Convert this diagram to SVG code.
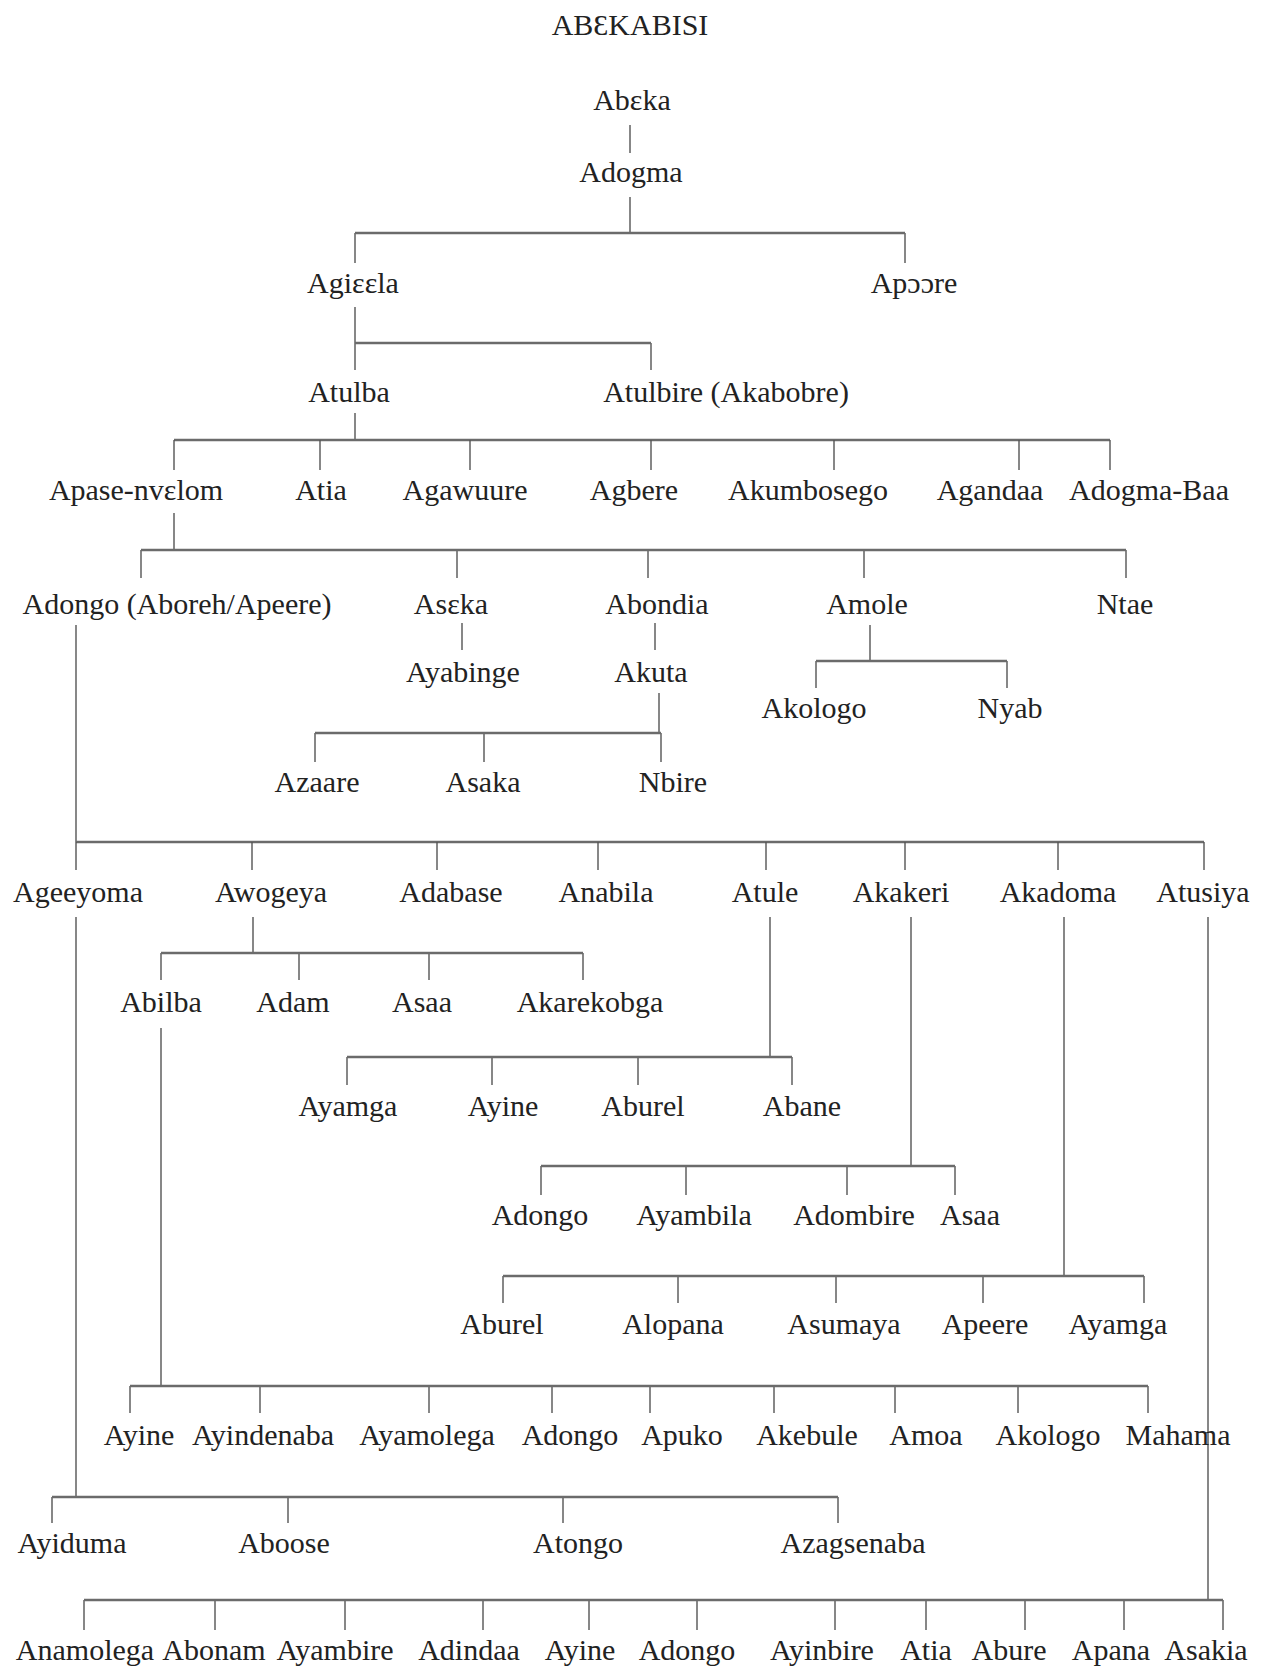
<svg xmlns="http://www.w3.org/2000/svg" width="1261" height="1667" viewBox="0 0 1261 1667">
<style>
text{font-family:"Liberation Serif","Times New Roman",serif;font-size:30px;fill:#222;text-anchor:middle}
.v{stroke:#555;stroke-width:1.4;fill:none}
.b{stroke:#6b6b6b;stroke-width:2.6;fill:none}
</style>
<rect width="1261" height="1667" fill="#fff"/>
<g id="connectors">
<path class="v" d="M630 125V153M630 197V232M355 233V263M905 233V263M355 307V343M355 343V370M651 343V370M355 413V440"/>
<path class="b" d="M355 233H905M355 343H651"/>
<path class="b" d="M174 440H1110"/>
<path class="v" d="M174 440V470M320 440V470M470 440V470M651 440V470M834 440V470M1019 440V470M1110 440V470"/>
<path class="v" d="M174 513V550M141 550V578M457 550V578M648 550V578M864 550V578M1126 550V578"/>
<path class="b" d="M141 550H1126"/>
<path class="v" d="M462 623V650M655 623V650M870 625V661M816 661V688M1007 661V688"/>
<path class="b" d="M816 661H1007"/>
<path class="v" d="M659 693V733M315 733V762M484 733V762M661 733V762"/>
<path class="b" d="M315 733H661"/>
<path class="v" d="M76 625V842"/>
<path class="b" d="M76 842H1204"/>
<path class="v" d="M76 842V870M252 842V870M437 842V870M598 842V870M766 842V870M905 842V870M1058 842V870M1204 842V870"/>
<path class="v" d="M253 917V953M161 953V980M299 953V980M429 953V980M583 953V980"/>
<path class="b" d="M161 953H583"/>
<path class="v" d="M770 917V1057M347 1057V1085M492 1057V1085M638 1057V1085M792 1057V1085"/>
<path class="b" d="M347 1057H792"/>
<path class="v" d="M911 917V1166M541 1166V1195M686 1166V1195M847 1166V1195M955 1166V1195"/>
<path class="b" d="M541 1166H955"/>
<path class="v" d="M1064 917V1276M503 1276V1303M678 1276V1303M836 1276V1303M983 1276V1303M1144 1276V1303"/>
<path class="b" d="M503 1276H1144"/>
<path class="v" d="M161 1028V1386M130 1386V1413M260 1386V1413M429 1386V1413M552 1386V1413M650 1386V1413M774 1386V1413M895 1386V1413M1018 1386V1413M1148 1386V1413"/>
<path class="b" d="M130 1386H1148"/>
<path class="v" d="M76 917V1497M52 1497V1523M288 1497V1523M563 1497V1523M838 1497V1523"/>
<path class="b" d="M52 1497H838"/>
<path class="v" d="M1208 917V1600M84 1600V1630M215 1600V1630M345 1600V1630M483 1600V1630M589 1600V1630M697 1600V1630M835 1600V1630M926 1600V1630M1025 1600V1630M1124 1600V1630M1223 1600V1630"/>
<path class="b" d="M84 1600H1223"/>
</g>
<g id="title"><text x="630" y="35">ABƐKABISI</text></g>
<g id="n-abeka"><text x="632" y="110">Abɛka</text></g>
<g id="n-adogma"><text x="631" y="182">Adogma</text></g>
<g id="n-agieela"><text x="353" y="293">Agiɛɛla</text></g>
<g id="n-apoore"><text x="914" y="293">Apɔɔre</text></g>
<g id="n-atulba"><text x="349" y="402">Atulba</text></g>
<g id="n-atulbire"><text x="726" y="402">Atulbire  (Akabobre)</text></g>
<g id="n-apase"><text x="136" y="500">Apase-nvɛlom</text></g>
<g id="n-atia1"><text x="321" y="500">Atia</text></g>
<g id="n-agawuure"><text x="465" y="500">Agawuure</text></g>
<g id="n-agbere"><text x="634" y="500">Agbere</text></g>
<g id="n-akumbosego"><text x="808" y="500">Akumbosego</text></g>
<g id="n-agandaa"><text x="990" y="500">Agandaa</text></g>
<g id="n-adogmabaa"><text x="1149" y="500">Adogma-Baa</text></g>
<g id="n-adongo1"><text x="177" y="614">Adongo (Aboreh/Apeere)</text></g>
<g id="n-aseka"><text x="451" y="614">Asɛka</text></g>
<g id="n-abondia"><text x="657" y="614">Abondia</text></g>
<g id="n-amole"><text x="867" y="614">Amole</text></g>
<g id="n-ntae"><text x="1125" y="614">Ntae</text></g>
<g id="n-ayabinge"><text x="463" y="682">Ayabinge</text></g>
<g id="n-akuta"><text x="651" y="682">Akuta</text></g>
<g id="n-akologo1"><text x="814" y="718">Akologo</text></g>
<g id="n-nyab"><text x="1010" y="718">Nyab</text></g>
<g id="n-azaare"><text x="317" y="792">Azaare</text></g>
<g id="n-asaka"><text x="483" y="792">Asaka</text></g>
<g id="n-nbire"><text x="673" y="792">Nbire</text></g>
<g id="n-ageeyoma"><text x="78" y="902">Ageeyoma</text></g>
<g id="n-awogeya"><text x="271" y="902">Awogeya</text></g>
<g id="n-adabase"><text x="451" y="902">Adabase</text></g>
<g id="n-anabila"><text x="606" y="902">Anabila</text></g>
<g id="n-atule"><text x="765" y="902">Atule</text></g>
<g id="n-akakeri"><text x="901" y="902">Akakeri</text></g>
<g id="n-akadoma"><text x="1058" y="902">Akadoma</text></g>
<g id="n-atusiya"><text x="1203" y="902">Atusiya</text></g>
<g id="n-abilba"><text x="161" y="1012">Abilba</text></g>
<g id="n-adam"><text x="293" y="1012">Adam</text></g>
<g id="n-asaa1"><text x="422" y="1012">Asaa</text></g>
<g id="n-akarekobga"><text x="590" y="1012">Akarekobga</text></g>
<g id="n-ayamga1"><text x="348" y="1116">Ayamga</text></g>
<g id="n-ayine1"><text x="503" y="1116">Ayine</text></g>
<g id="n-aburel1"><text x="643" y="1116">Aburel</text></g>
<g id="n-abane"><text x="802" y="1116">Abane</text></g>
<g id="n-adongo2"><text x="540" y="1225">Adongo</text></g>
<g id="n-ayambila"><text x="694" y="1225">Ayambila</text></g>
<g id="n-adombire"><text x="854" y="1225">Adombire</text></g>
<g id="n-asaa2"><text x="970" y="1225">Asaa</text></g>
<g id="n-aburel2"><text x="502" y="1334">Aburel</text></g>
<g id="n-alopana"><text x="673" y="1334">Alopana</text></g>
<g id="n-asumaya"><text x="844" y="1334">Asumaya</text></g>
<g id="n-apeere"><text x="985" y="1334">Apeere</text></g>
<g id="n-ayamga2"><text x="1118" y="1334">Ayamga</text></g>
<g id="n-ayine2"><text x="139" y="1445">Ayine</text></g>
<g id="n-ayindenaba"><text x="263" y="1445">Ayindenaba</text></g>
<g id="n-ayamolega"><text x="427" y="1445">Ayamolega</text></g>
<g id="n-adongo3"><text x="570" y="1445">Adongo</text></g>
<g id="n-apuko"><text x="682" y="1445">Apuko</text></g>
<g id="n-akebule"><text x="807" y="1445">Akebule</text></g>
<g id="n-amoa"><text x="926" y="1445">Amoa</text></g>
<g id="n-akologo2"><text x="1048" y="1445">Akologo</text></g>
<g id="n-mahama"><text x="1178" y="1445">Mahama</text></g>
<g id="n-ayiduma"><text x="72" y="1553">Ayiduma</text></g>
<g id="n-aboose"><text x="284" y="1553">Aboose</text></g>
<g id="n-atongo"><text x="578" y="1553">Atongo</text></g>
<g id="n-azagsenaba"><text x="853" y="1553">Azagsenaba</text></g>
<g id="n-anamolega"><text x="85" y="1660">Anamolega</text></g>
<g id="n-abonam"><text x="214" y="1660">Abonam</text></g>
<g id="n-ayambire"><text x="335" y="1660">Ayambire</text></g>
<g id="n-adindaa"><text x="469" y="1660">Adindaa</text></g>
<g id="n-ayine3"><text x="580" y="1660">Ayine</text></g>
<g id="n-adongo4"><text x="687" y="1660">Adongo</text></g>
<g id="n-ayinbire"><text x="822" y="1660">Ayinbire</text></g>
<g id="n-atia2"><text x="926" y="1660">Atia</text></g>
<g id="n-abure"><text x="1009" y="1660">Abure</text></g>
<g id="n-apana"><text x="1111" y="1660">Apana</text></g>
<g id="n-asakia"><text x="1206" y="1660">Asakia</text></g>
</svg>
